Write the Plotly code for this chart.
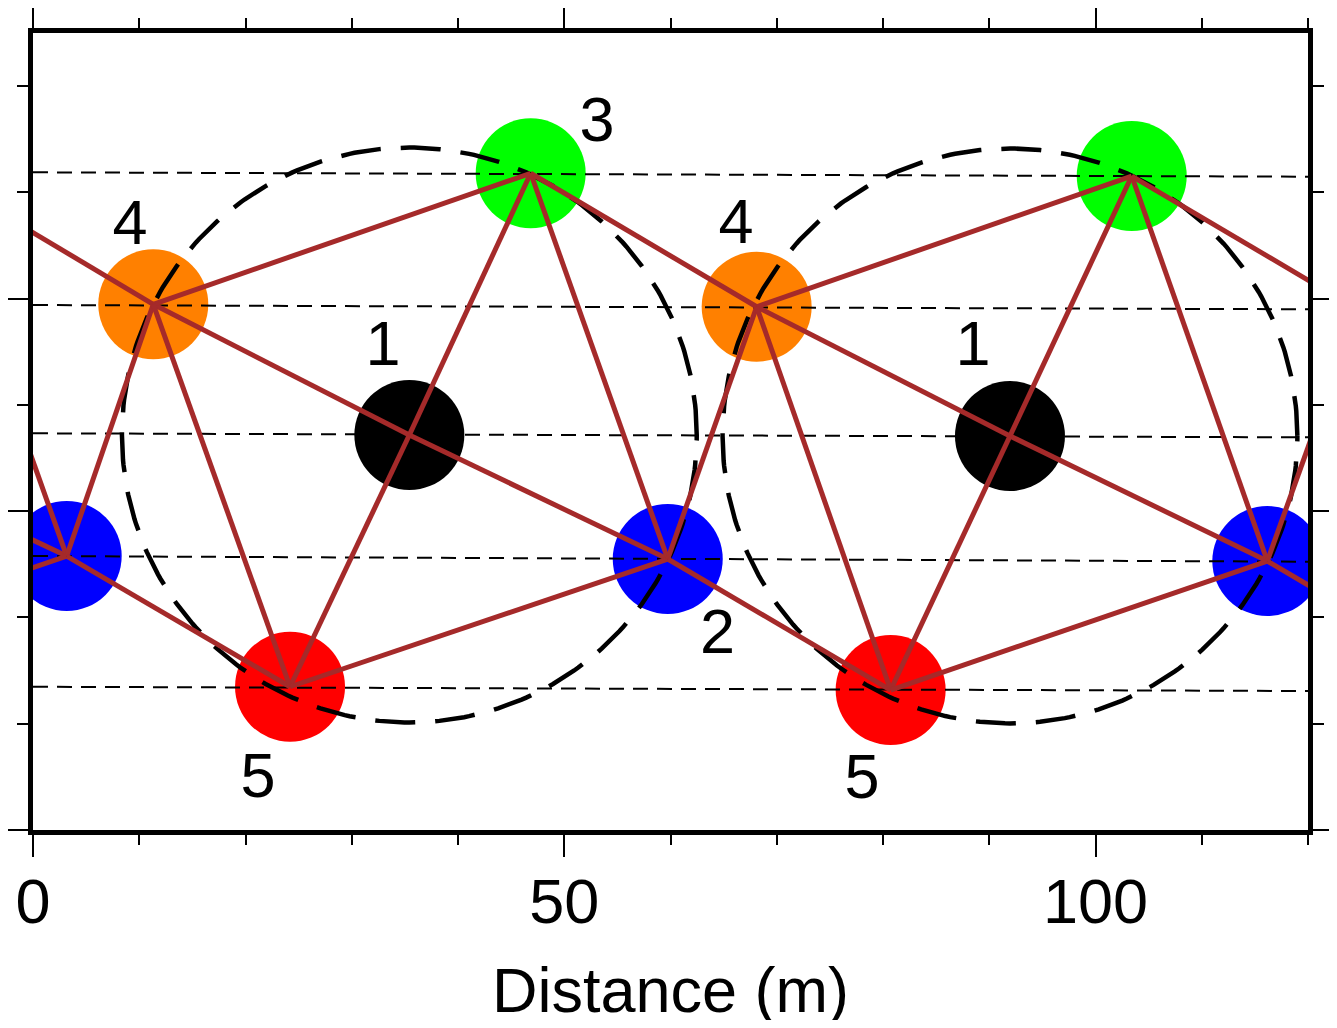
import numpy as np
import plotly.graph_objects as go

# ---------------- data ----------------
# station points (x = distance in m, y in m); off-frame ones are estimated
pt_name = ["1", "2", "3", "5", "1", "2", "3", "4", "5", "1", "2", "3", "4", "5", "4", "5"]
pt_x = [-21.13, 3.17, -9.71, -32.36, 35.42, 59.74, 46.84, 11.32, 24.19,
        91.95, 116.17, 103.41, 68.11, 80.72, 124.66, 137.27]
pt_y = [37.26, 25.78, 62.00, 13.60, 37.17, 25.50, 61.80, 49.47, 13.48,
        37.08, 25.31, 61.54, 49.24, 13.17, 49.00, 12.90]

station_colors = {"1": "#000000", "2": "#0000FF", "3": "#00FF00", "4": "#FF8000", "5": "#FF0000"}

# triangulation edges (index pairs into the point lists)
edges = [(0, 1), (2, 1), (3, 1),
         (2, 7), (1, 7), (1, 8),
         (4, 5), (4, 6), (4, 7), (4, 8), (7, 6), (6, 5), (7, 8), (8, 5),
         (6, 12), (5, 12), (5, 13),
         (9, 10), (9, 11), (9, 12), (9, 13), (12, 11), (11, 10), (12, 13), (13, 10),
         (11, 14), (10, 14), (10, 15)]

# reference circles
circle_cx = [35.42, 91.95]
circle_cy = [37.17, 37.08]
circle_r = [27.05, 27.05]

# horizontal dashed level lines: y at x=0 and at x=120
level_x = [0, 120]
level_y_left = [61.89, 49.40, 37.33, 25.78, 13.48]
level_y_right = [61.48, 49.00, 36.95, 25.25, 13.08]

# labels
label_text = ["3", "4", "1", "2", "5", "4", "1", "5"]
label_x = [53.08, 9.13, 32.94, 64.42, 21.18, 66.16, 88.47, 78.02]
label_y = [66.35, 56.62, 45.20, 18.15, 4.55, 56.70, 45.20, 4.45]

x_major = [0, 50, 100]
x_minor = [10, 20, 30, 40, 60, 70, 80, 90, 110, 120]
y_major = [0, 30, 50]
y_minor = [10, 20, 40, 60, 70]
x_title = "Distance (m)"

FONT = "Liberation Sans, Arial, Helvetica, sans-serif"
BROWN = "#A52A2A"

fig = go.Figure()

# station markers
fig.add_trace(go.Scatter(
    x=pt_x, y=pt_y, mode="markers",
    marker=dict(size=110, color=[station_colors[n] for n in pt_name], line=dict(width=0)),
    hoverinfo="skip", showlegend=False))

# dashed circles
t = np.linspace(0, 2 * np.pi, 361)
for cx, cy, r in zip(circle_cx, circle_cy, circle_r):
    fig.add_trace(go.Scatter(
        x=cx + r * np.cos(t), y=cy + r * np.sin(t), mode="lines",
        line=dict(color="black", width=4.5, dash="40px,20px"),
        hoverinfo="skip", showlegend=False))

# horizontal dashed lines
for yl, yr in zip(level_y_left, level_y_right):
    fig.add_trace(go.Scatter(
        x=level_x, y=[yl, yr], mode="lines",
        line=dict(color="black", width=2, dash="15px,9px"),
        hoverinfo="skip", showlegend=False))

# triangulation
ex, ey = [], []
for a, b in edges:
    ex += [pt_x[a], pt_x[b], None]
    ey += [pt_y[a], pt_y[b], None]
fig.add_trace(go.Scatter(
    x=ex, y=ey, mode="lines", line=dict(color=BROWN, width=5),
    hoverinfo="skip", showlegend=False))

# labels
fig.add_trace(go.Scatter(
    x=label_x, y=label_y, mode="text", text=label_text,
    textposition="middle center",
    textfont=dict(size=63, color="black", family=FONT),
    hoverinfo="skip", showlegend=False, cliponaxis=False))

fig.update_layout(
    width=1321, height=1012,
    margin=dict(l=25, r=21, t=25, b=190, autoexpand=False),
    paper_bgcolor="white", plot_bgcolor="white",
    font=dict(family=FONT, color="black", size=63),
    showlegend=False,
    xaxis=dict(
        range=[0, 120], showgrid=False, zeroline=False, automargin=False,
        showline=True, linewidth=4.5, linecolor="black", mirror="ticks",
        ticks="outside", tickvals=x_major, ticktext=[str(v) for v in x_major],
        ticklen=22, tickwidth=2, tickcolor="black",
        minor=dict(tickvals=x_minor, ticks="outside", ticklen=10, tickwidth=2, tickcolor="black"),
        tickfont=dict(size=63, family=FONT, color="black"),
        ticklabelstandoff=-9,
    ),
    yaxis=dict(
        range=[0, 75], showgrid=False, zeroline=False, automargin=False,
        showline=True, linewidth=4.5, linecolor="black", mirror="ticks",
        ticks="outside", tickvals=y_major, showticklabels=False,
        ticklen=24, tickwidth=2, tickcolor="black",
        minor=dict(tickvals=y_minor, ticks="outside", ticklen=11, tickwidth=2, tickcolor="black"),
    ),
    annotations=[dict(
        text=x_title, xref="paper", yref="paper", x=0.5, y=0,
        xanchor="center", yanchor="middle", yshift=-160, showarrow=False,
        font=dict(size=63, family=FONT, color="black"))],
)

fig.write_html("out.html")
